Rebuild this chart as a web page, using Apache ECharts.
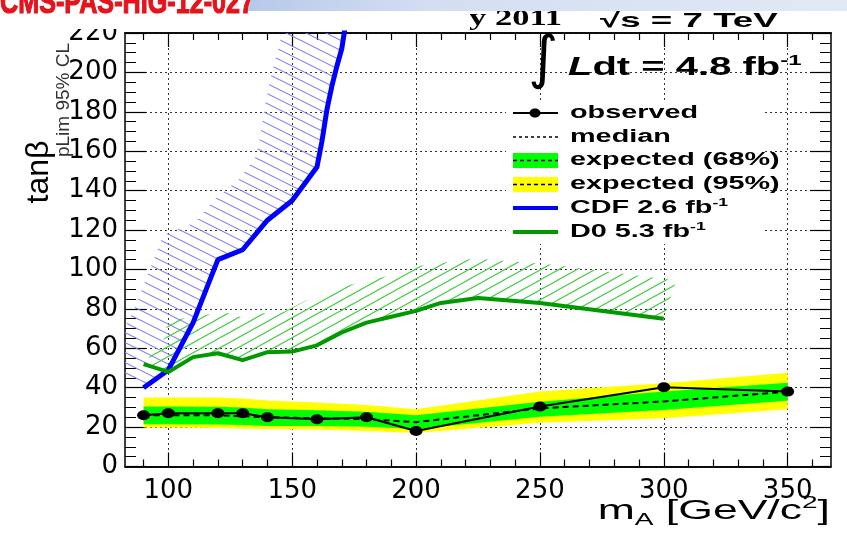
<!DOCTYPE html>
<html>
<head>
<meta charset="utf-8">
<script src="https://cdn.jsdelivr.net/npm/echarts/dist/echarts.min.js"></script>
<style>
html,body{margin:0;padding:0;background:#fff;}
#c{width:847px;height:533px;}
</style>
</head>
<body>
<div id="c"></div>
<script>
// ---------------- data ----------------
const MASS      = [90, 100, 120, 130, 140, 160, 180, 200, 250, 300, 350];
const OBSERVED  = [26, 27, 27, 27, 25, 24, 25, 18, 30.4, 40.2, 38];
const MEDIAN    = [26, 26, 26, 25.5, 25, 24.5, 24, 22.5, 29.5, 33, 38];
const EXP68_HI  = [30.5, 30.5, 30.3, 30, 29, 28.5, 27.8, 26, 32.9, 38, 42.5];
const EXP68_LO  = [21.4, 21.4, 21.3, 21, 20.6, 20.5, 20.2, 19, 25.3, 28.7, 33.4];
const EXP95_HI  = [35, 35, 35, 34.5, 33.5, 32.5, 31.2, 29, 38, 42.2, 47.6];
const EXP95_LO  = [19.8, 19.8, 19.6, 19.2, 19, 18.8, 18, 17, 22.2, 24.5, 29];

const CDF_MASS  = [90, 100, 110, 120, 130, 140, 150, 160, 162, 164, 166, 168, 170, 172];
const CDF_TANB  = [40, 49, 73, 105, 110, 125, 135, 152, 165, 181, 193, 203, 212, 228];

const D0_MASS   = [90, 100, 110, 120, 130, 140, 150, 160, 170, 180, 190, 200, 210, 225, 250, 300];
const D0_TANB   = [52, 48, 55.5, 57.5, 54, 58, 58.3, 61.5, 68, 73, 76, 79, 83, 85.5, 83, 75];

const X_MAJOR   = [100, 150, 200, 250, 300, 350];
const X_MINOR   = [90, 110, 120, 130, 140, 160, 170, 180, 190, 210, 220, 230, 240, 260, 270, 280, 290, 310, 320, 330, 340, 360];

// ---------------- helpers ----------------
function hatchPattern(w, h, color, dir) {
  const c = document.createElement('canvas');
  c.width = w; c.height = h;
  const g = c.getContext('2d');
  g.strokeStyle = color; g.lineWidth = 1.1;
  g.beginPath();
  for (let k = -3; k <= 3; k++) {
    if (dir > 0) { g.moveTo(-w, -h + k * h); g.lineTo(2 * w, 2 * h + k * h); }
    else { g.moveTo(-w, 2 * h + k * h); g.lineTo(2 * w, -h + k * h); }
  }
  g.stroke();
  return { image: c, repeat: 'repeat' };
}
const CDF_HATCH = hatchPattern(20, 10, '#7c7cf0', 1);
const D0_HATCH = hatchPattern(18, 10, '#44cc44', -1);

function pairs(xs, ys) { return xs.map((x, i) => [x, ys[i]]); }

function bandItem(xs, lo, hi, fill) {
  return function (params, api) {
    const pts = [];
    for (let i = 0; i < xs.length; i++) pts.push(api.coord([xs[i], hi[i]]));
    for (let i = xs.length - 1; i >= 0; i--) pts.push(api.coord([xs[i], lo[i]]));
    return { type: 'polygon', shape: { points: pts }, style: { fill: fill } };
  };
}

// hatched band on the excluded side of a limit curve (ROOT style)
function hatchItem(xs, ys, d, stretch, fill) {
  return function (params, api) {
    const P = xs.map((x, i) => api.coord([x, ys[i]]));
    const U = P.map(p => [p[0] / stretch, p[1]]);
    const n = U.length;
    const segN = [];
    for (let i = 0; i < n - 1; i++) {
      const dx = U[i + 1][0] - U[i][0], dy = U[i + 1][1] - U[i][1];
      const l = Math.hypot(dx, dy) || 1;
      segN.push([dy / l, -dx / l]);
    }
    const Q = [];
    for (let i = 0; i < n; i++) {
      let a = segN[Math.max(0, i - 1)], b = segN[Math.min(n - 2, i)];
      let mx = a[0] + b[0], my = a[1] + b[1];
      const ml = Math.hypot(mx, my) || 1;
      mx /= ml; my /= ml;
      const dot = Math.max(0.5, mx * a[0] + my * a[1]);
      const L = d / dot;
      Q.push([(U[i][0] + mx * L) * stretch, U[i][1] + my * L]);
    }
    const poly = P.concat(Q.reverse());
    const cs = params.coordSys;
    return {
      type: 'polygon', shape: { points: poly }, style: { fill: fill },
      clipPath: { type: 'rect', shape: { x: cs.x, y: cs.y, width: cs.width, height: cs.height } }
    };
  };
}

const TICK_FONT = { fontFamily: 'DejaVu Sans', fontSize: 26, color: '#000' };
const XMIN = 82.5, XMAX = 367.5;

function xAxis(pos, ticks, len, withLabels, withSplit) {
  return {
    type: 'value', min: XMIN, max: XMAX, position: pos,
    axisLine: { show: true, onZero: false, lineStyle: { color: '#000', width: 1.5 } },
    axisTick: { show: true, inside: true, length: len, customValues: ticks, lineStyle: { color: '#000', width: 1.2 } },
    axisLabel: withLabels ? Object.assign({ show: true, margin: 12, customValues: X_MAJOR }, TICK_FONT) : { show: false },
    splitLine: { show: withSplit, lineStyle: { color: '#333', type: [2, 3], width: 1 } }
  };
}
function yAxis(pos, withLabels) {
  return {
    type: 'value', min: 0, max: 220, interval: 20, position: pos,
    axisLine: { show: true, onZero: false, lineStyle: { color: '#000', width: 1.5 } },
    axisTick: { show: true, inside: true, length: 21, lineStyle: { color: '#000', width: 1.2 } },
    minorTick: { show: true, splitNumber: 4, length: 11, lineStyle: { color: '#000', width: 1 } },
    axisLabel: withLabels ? Object.assign({ show: true, margin: 7 }, TICK_FONT) : { show: false },
    splitLine: { show: withLabels, lineStyle: { color: '#333', type: [2, 3], width: 1 } }
  };
}

// legend rows
const LX0 = 513, LX1 = 558, LTX = 570;
const LEG_FONT = { fontFamily: 'Liberation Sans', fontWeight: 'bold', fontSize: 18, fill: '#000', verticalAlign: 'middle' };
function legText(y, text) {
  return {
    type: 'text', x: LTX, y: y, scaleX: 1.6, z: 20,
    style: Object.assign({ text: text, lineHeight: 22,
      rich: { s: { fontFamily: 'Liberation Sans', fontWeight: 'bold', fontSize: 11, lineHeight: 11, verticalAlign: 'top' } } }, LEG_FONT)
  };
}

const chart = echarts.init(document.getElementById('c'), null, { renderer: 'canvas' });
chart.setOption({
  animation: false,
  backgroundColor: '#fff',
  grid: { left: 125, right: 16, top: 33, bottom: 66.5, containLabel: false },
  xAxis: [
    xAxis('bottom', X_MAJOR, 14, true, true),
    xAxis('bottom', X_MINOR, 7, false, false),
    xAxis('top', X_MAJOR, 14, false, false),
    xAxis('top', X_MINOR, 7, false, false)
  ],
  yAxis: [yAxis('left', true), yAxis('right', false)],
  series: [
    { type: 'custom', name: 'expected (95%)', data: [[200, 20]], clip: true, silent: true, z: 1,
      renderItem: bandItem(MASS, EXP95_LO, EXP95_HI, '#ffff00') },
    { type: 'custom', name: 'expected (68%)', data: [[200, 20]], clip: true, silent: true, z: 2,
      renderItem: bandItem(MASS, EXP68_LO, EXP68_HI, '#00ff00') },
    { type: 'line', name: 'median', data: pairs(MASS, MEDIAN), symbol: 'none', z: 3,
      lineStyle: { color: '#000', width: 2, type: [6, 4] } },
    { type: 'line', name: 'observed', data: pairs(MASS, OBSERVED), symbol: 'circle', symbolSize: [13, 10], z: 4,
      itemStyle: { color: '#000' }, lineStyle: { color: '#000', width: 2 } },
    { type: 'custom', name: 'CDF excl', data: [[100, 50]], clip: true, silent: true, z: 5,
      renderItem: hatchItem(CDF_MASS, CDF_TANB, 39, 1.6, CDF_HATCH) },
    { type: 'custom', name: 'D0 excl', data: [[100, 50]], clip: true, silent: true, z: 5,
      renderItem: hatchItem(D0_MASS, D0_TANB, 39, 1.6, D0_HATCH) },
    { type: 'line', name: 'CDF 2.6 fb-1', data: pairs(CDF_MASS, CDF_TANB), symbol: 'none', z: 6, clip: true,
      lineStyle: { color: '#0000ff', width: 5 } },
    { type: 'line', name: 'D0 5.3 fb-1', data: pairs(D0_MASS, D0_TANB), symbol: 'none', z: 7, clip: true,
      lineStyle: { color: '#009900', width: 4 } }
  ],
  graphic: [
    // header
    { type: 'text', x: 562, y: 19, scaleX: 1.5, z: 60,
      style: { text: 'CMS Preliminary 2011', fontFamily: 'Liberation Serif', fontWeight: 'bold', fontSize: 23, fill: '#000', align: 'right', verticalAlign: 'middle' } },
    { type: 'rect', z: 70, shape: { x: 0, y: 0, width: 470, height: 29 }, style: { fill: '#fff' } },
    { type: 'rect', z: 75, shape: { x: 247, y: 0, width: 600, height: 11 },
      style: { fill: new echarts.graphic.LinearGradient(0, 0, 1, 0, [{ offset: 0, color: '#b7c9ea' }, { offset: 0.3, color: '#d3def2' }, { offset: 1, color: '#e2e9f6' }]) } },
    { type: 'text', x: 0, y: 4, scaleX: 0.74, z: 80,
      style: { text: 'CMS-PAS-HIG-12-027', fontFamily: 'Liberation Sans', fontWeight: 'bold', fontSize: 34, fill: '#e3141b', stroke: '#e3141b', lineWidth: 1.2, verticalAlign: 'middle' } },
    { type: 'text', x: 600, y: 21, scaleX: 1.75, z: 60,
      style: { text: '\u221As = 7 TeV', fontFamily: 'Liberation Sans', fontWeight: 'bold', fontSize: 21, fill: '#000', verticalAlign: 'middle' } },
    // y title
    { type: 'text', x: 39, y: 172, rotation: Math.PI / 2, z: 20,
      style: { text: 'tan\u03B2', fontFamily: 'Liberation Sans', fontSize: 32, fill: '#000', align: 'center', verticalAlign: 'middle' } },
    { type: 'text', x: 64, y: 100, rotation: Math.PI / 2, z: 20,
      style: { text: 'pLim 95% CL', fontFamily: 'Liberation Sans', fontSize: 19, fill: '#333', align: 'center', verticalAlign: 'middle' } },
    // x title
    { type: 'text', x: 830, y: 512, scaleX: 1.65, z: 20,
      style: { text: '{a|m}{b|A} [GeV/c{c|2}]', fontFamily: 'Liberation Sans', fontSize: 27, lineHeight: 34, fill: '#000', align: 'right', verticalAlign: 'middle',
        rich: { a: { fontFamily: 'Liberation Sans', fontSize: 27, lineHeight: 34 },
                b: { fontFamily: 'Liberation Sans', fontSize: 17, lineHeight: 17, verticalAlign: 'bottom' },
                c: { fontFamily: 'Liberation Sans', fontSize: 17, lineHeight: 17, verticalAlign: 'top' } } } },
    // luminosity label
    { type: 'text', x: 543, y: 62, z: 20,
      style: { text: '\u222B', fontFamily: 'DejaVu Sans', fontSize: 58, fill: '#000', align: 'center', verticalAlign: 'middle' } },
    { type: 'text', x: 568, y: 68, scaleX: 1.6, z: 20,
      style: { text: '{L|L}dt = 4.8 fb{s|-1}', fontFamily: 'Liberation Sans', fontWeight: 'bold', fontSize: 25, lineHeight: 30, fill: '#000', verticalAlign: 'middle',
        rich: { L: { fontFamily: 'Liberation Sans', fontWeight: 'bold', fontStyle: 'italic', fontSize: 25, lineHeight: 30 },
                s: { fontFamily: 'Liberation Sans', fontWeight: 'bold', fontSize: 15, lineHeight: 14, verticalAlign: 'top' } } } },
    // legend
    { type: 'rect', z: 10, shape: { x: 506, y: 102, width: 256, height: 142 }, style: { fill: '#fff' } },
    { type: 'line', z: 20, shape: { x1: LX0, y1: 113, x2: LX1, y2: 113 }, style: { stroke: '#000', lineWidth: 2 } },
    { type: 'ellipse', z: 21, shape: { cx: 535, cy: 113, rx: 5.5, ry: 4.5 }, style: { fill: '#000' } },
    legText(113, 'observed'),
    { type: 'line', z: 20, shape: { x1: LX0, y1: 137, x2: LX1, y2: 137 }, style: { stroke: '#000', lineWidth: 1.5, lineDash: [3, 3] } },
    legText(137, 'median'),
    { type: 'rect', z: 20, shape: { x: LX0, y: 153, width: LX1 - LX0, height: 15 }, style: { fill: '#00ff00' } },
    { type: 'line', z: 21, shape: { x1: LX0, y1: 160.5, x2: LX1, y2: 160.5 }, style: { stroke: '#000', lineWidth: 1.5, lineDash: [4, 3] } },
    legText(160.5, 'expected (68%)'),
    { type: 'rect', z: 20, shape: { x: LX0, y: 177, width: LX1 - LX0, height: 15 }, style: { fill: '#ffff00' } },
    { type: 'line', z: 21, shape: { x1: LX0, y1: 184.5, x2: LX1, y2: 184.5 }, style: { stroke: '#000', lineWidth: 1.5, lineDash: [4, 3] } },
    legText(184, 'expected (95%)'),
    { type: 'line', z: 20, shape: { x1: LX0, y1: 208, x2: LX1, y2: 208 }, style: { stroke: '#0000ff', lineWidth: 4 } },
    legText(208, 'CDF 2.6 fb{s|-1}'),
    { type: 'line', z: 20, shape: { x1: LX0, y1: 232, x2: LX1, y2: 232 }, style: { stroke: '#009900', lineWidth: 4 } },
    legText(232, 'D0 5.3 fb{s|-1}')
  ]
});
</script>
</body>
</html>
